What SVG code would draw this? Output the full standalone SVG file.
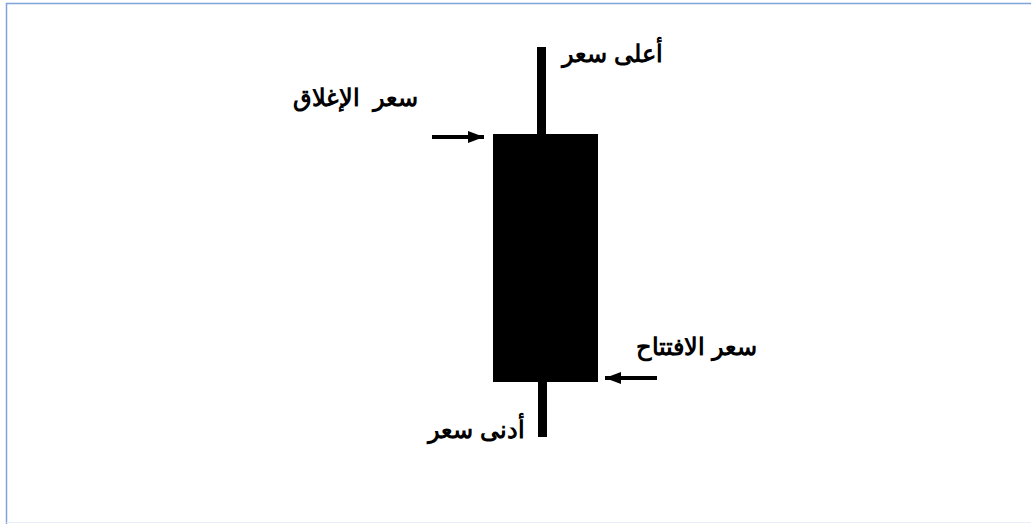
<svg xmlns="http://www.w3.org/2000/svg" width="1031" height="524" viewBox="0 0 1031 524">
<style>
.lbl{font-family:"Liberation Sans",Arial,sans-serif;font-weight:bold;font-size:24px;fill:#000;direction:rtl;white-space:pre}
.arr{stroke:#000;stroke-width:4;fill:none}
</style>
<defs>
<marker id="ah" viewBox="0 0 16 12" refX="16" refY="6" markerWidth="16" markerHeight="12" orient="auto" markerUnits="userSpaceOnUse">
<path d="M0,0 L16,6 L0,12 z" fill="#000"/>
</marker>
</defs>
<rect width="1031" height="524" fill="#fff"/>
<path d="M1031,3.5 H6.5 V524" fill="none" stroke="#7da3da" stroke-width="1.5"/>
<path d="M6.5,522.5 H1031" fill="none" stroke="#e8eef8" stroke-width="1"/>
<g id="candle">
<rect x="537" y="47" width="9" height="90" fill="#000"/>
<rect x="538" y="380" width="9" height="57" fill="#000"/>
<rect x="493" y="134" width="105" height="248" fill="#000"/>
</g>
<g id="connectors">
<line class="arr" x1="432" y1="137" x2="484" y2="137" marker-end="url(#ah)"/>
<line class="arr" x1="657" y1="378" x2="605" y2="378" marker-end="url(#ah)"/>
</g>
<g id="high"><text class="lbl" x="663" y="62" xml:space="preserve">أعلى سعر</text></g>
<g id="close"><text class="lbl" x="418" y="106" xml:space="preserve">سعر  الإغلاق</text></g>
<g id="open"><text class="lbl" x="757" y="355" xml:space="preserve">سعر الافتتاح</text></g>
<g id="low"><text class="lbl" x="525" y="438" xml:space="preserve">أدنى سعر</text></g>
</svg>
